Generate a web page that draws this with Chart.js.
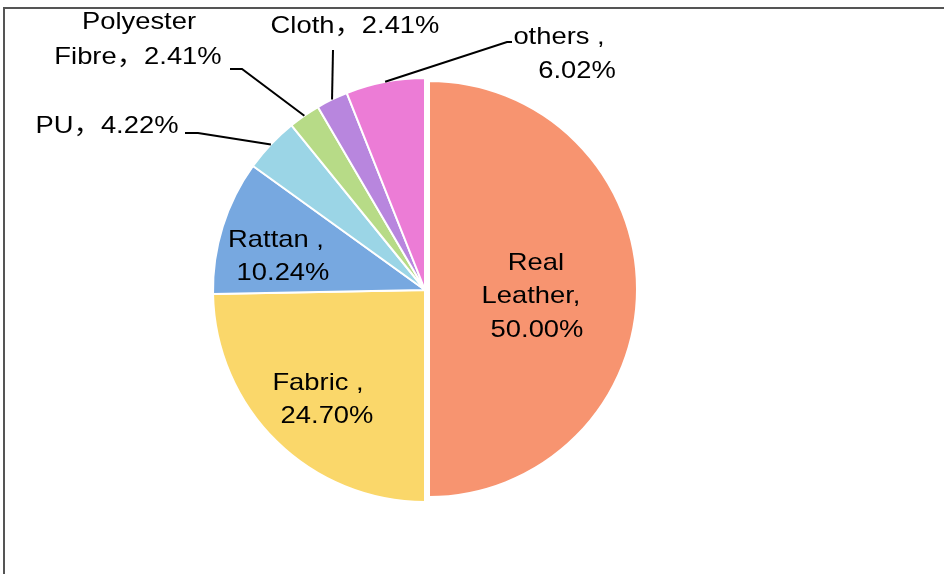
<!DOCTYPE html>
<html>
<head>
<meta charset="utf-8">
<script src="https://cdn.jsdelivr.net/npm/chart.js@4"></script>
<style>
  html, body { margin: 0; padding: 0; background: #fff; }
  #wrap { width: 944px; height: 574px; position: relative; }
</style>
</head>
<body>
<div id="wrap"><canvas id="pieChart" width="944" height="574"></canvas></div>
<script>
// data
const materials = ['Real Leather', 'Fabric', 'Rattan', 'PU', 'Polyester Fibre', 'Cloth', 'others'];
const shares = [50.00, 24.70, 10.24, 4.22, 2.41, 2.41, 6.02];
const sliceColors = ['#F79470', '#FAD76A', '#77A8E0', '#9BD5E6', '#B7DB87', '#B886DE', '#EC7CD6'];

// label text + placement (line centres), leader elbow points for outside labels
const labelLayout = [
    { lines: [['Real', 536, 263], ['Leather,', 531, 296], ['50.00%', 537, 330]] },
    { lines: [['Fabric ,', 318, 383], ['24.70%', 327, 416]] },
    { lines: [['Rattan ,', 276, 240], ['10.24%', 283, 273]] },
    { lines: [['PU，4.22%', 107, 126]], leader: [[198, 133], [185, 133]] },
    { lines: [['Polyester', 139, 22], ['Fibre，2.41%', 138, 57]], leader: [[242, 69], [230, 69]] },
    { lines: [['Cloth，2.41%', 355, 26]], leader: [[333, 50]] },
    { lines: [['others ,', 559, 37], ['6.02%', 577, 71]], leader: [[507, 42], [512, 42]] }
];

const FONT = '24px "Liberation Sans", Arial, "Noto Sans CJK SC", sans-serif';
const STRETCH = 1.14;

const framePlugin = {
    id: 'frame',
    beforeDraw(chart) {
        const ctx = chart.ctx;
        ctx.save();
        ctx.fillStyle = '#fff';
        ctx.fillRect(0, 0, chart.width, chart.height);
        ctx.strokeStyle = '#555';
        ctx.lineWidth = 2;
        ctx.beginPath();
        ctx.moveTo(4, 574);
        ctx.lineTo(4, 8);
        ctx.lineTo(944, 8);
        ctx.stroke();
        ctx.restore();
    }
};

// pull the big slice out a little to the right, slightly smaller like the original
const pullOutPlugin = {
    id: 'pullOut',
    afterDatasetUpdate(chart, args) {
        const arc = chart.getDatasetMeta(args.index).data[0];
        const mid = (arc.startAngle + arc.endAngle) / 2;
        arc.x += Math.cos(mid) * 4;
        arc.y += Math.sin(mid) * 4 - 1;
        arc.outerRadius -= 4;
    }
};

const labelPlugin = {
    id: 'sliceLabels',
    afterDatasetsDraw(chart) {
        const ctx = chart.ctx;
        const arcs = chart.getDatasetMeta(0).data;
        ctx.save();
        arcs.forEach((arc, i) => {
            const lay = labelLayout[i];
            if (lay.leader) {
                const mid = (arc.startAngle + arc.endAngle) / 2;
                const sx = arc.x + Math.cos(mid) * arc.outerRadius;
                const sy = arc.y + Math.sin(mid) * arc.outerRadius;
                ctx.strokeStyle = '#000';
                ctx.lineWidth = 2;
                ctx.beginPath();
                ctx.moveTo(sx, sy);
                lay.leader.forEach(p => ctx.lineTo(p[0], p[1]));
                ctx.stroke();
            }
            ctx.fillStyle = '#000';
            ctx.font = FONT;
            ctx.textAlign = 'center';
            ctx.textBaseline = 'middle';
            lay.lines.forEach(([txt, x, y]) => {
                ctx.save();
                ctx.translate(x, y);
                ctx.scale(STRETCH, 1);
                ctx.fillText(txt, 0, 0);
                ctx.restore();
            });
        });
        ctx.restore();
    }
};

new Chart(document.getElementById('pieChart'), {
    type: 'pie',
    data: {
        labels: materials,
        datasets: [{
            data: shares,
            backgroundColor: sliceColors,
            borderColor: '#fff',
            borderWidth: 2
        }]
    },
    options: {
        responsive: false,
        animation: false,
        radius: 212,
        layout: { padding: { left: 0, right: 94, top: 6, bottom: 0 } },
        plugins: {
            legend: { display: false },
            tooltip: { enabled: false }
        }
    },
    plugins: [framePlugin, pullOutPlugin, labelPlugin]
});
</script>
</body>
</html>
